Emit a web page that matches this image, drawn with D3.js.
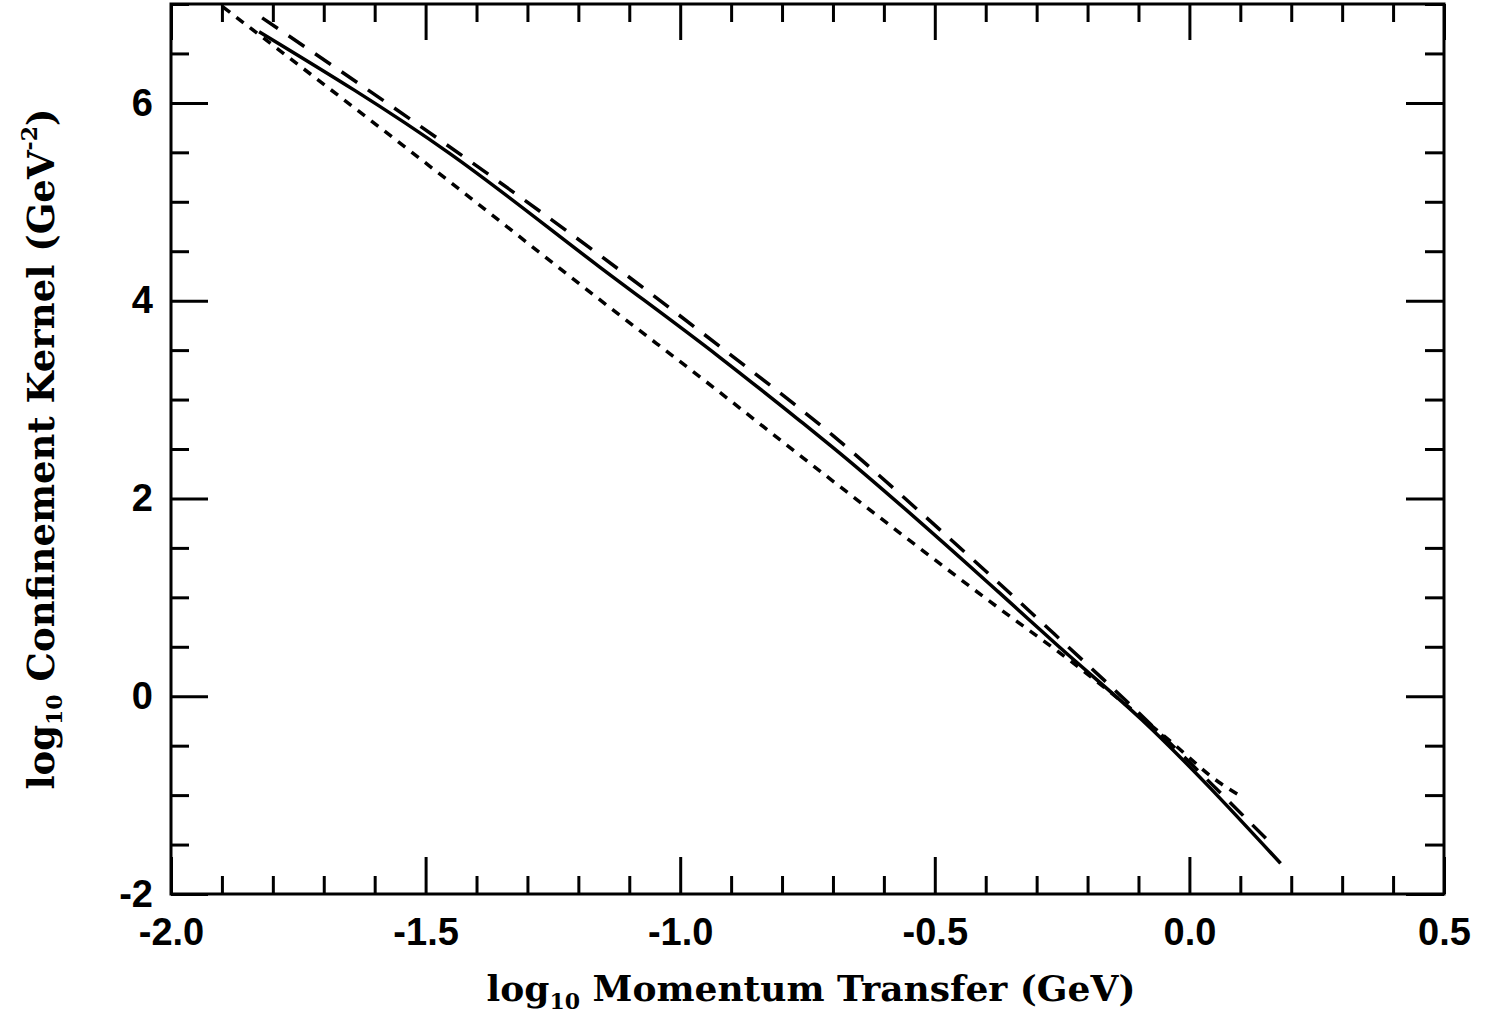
<!DOCTYPE html>
<html>
<head>
<meta charset="utf-8">
<script src="https://cdn.jsdelivr.net/npm/d3@7"></script>
<style>
  body { margin: 0; background: #fff; }
  .tick text { font-family: Arial, "Liberation Sans", sans-serif; font-weight: bold; }
  .ttl { font-family: "DejaVu Serif", serif; font-weight: bold; }
</style>
</head>
<body>
<svg id="chart"></svg>
<script>
const solidX = [-1.827, -1.453, -1.158, -0.923, -0.766, -0.701, -0.374, -0.256, -0.093, 0.179];
const solidY = [6.72, 5.49, 4.34, 3.43, 2.79, 2.52, 1.05, 0.50, -0.24, -1.69];

const longDashX = [-1.821, -1.512, -1.158, -0.923, -0.701, -0.50, -0.276, -0.093, 0.166];
const longDashY = [6.86, 5.77, 4.46, 3.54, 2.64, 1.73, 0.68, -0.20, -1.52];

const shortDashX = [-1.898, -1.457, -1.158, -0.929, -0.766, -0.374, -0.237, -0.034, 0.058, 0.104];
const shortDashY = [6.97, 5.22, 4.01, 3.10, 2.44, 0.89, 0.37, -0.47, -0.87, -1.02];

const xTicks = [-2.0, -1.5, -1.0, -0.5, 0.0, 0.5];
const xTickLabels = ["-2.0", "-1.5", "-1.0", "-0.5", "0.0", "0.5"];
const yTicks = [-2, 0, 2, 4, 6];
const yTickLabels = ["-2", "0", "2", "4", "6"];

const width = 1489;
const height = 1014;

const svg = d3.select('#chart')
    .attr('width', width)
    .attr('height', height);

const x = d3.scaleLinear().domain([-2.0, 0.5]).range([171, 1444]);
const y = d3.scaleLinear().domain([-2, 7]).range([894, 4]);

const xMinor = d3.range(-2.0, 0.5001, 0.1).filter(v => Math.abs(v * 2 - Math.round(v * 2)) > 1e-6);
const yMinor = d3.range(-2, 7.001, 0.5).filter(v => Math.abs(v / 2 - Math.round(v / 2)) > 1e-6);

function styleAxis(g) {
  g.select('.domain').remove();
  g.selectAll('.tick line').attr('stroke', '#000').attr('stroke-width', 3);
  g.selectAll('.tick text').attr('fill', '#000').style('font-size', '38px');
}

// bottom
svg.append('g').attr('transform', 'translate(0,894)')
  .call(d3.axisBottom(x).tickValues(xTicks).tickSize(-37).tickPadding(24)
        .tickFormat((d, i) => xTickLabels[i]))
  .call(styleAxis);
svg.append('g').attr('transform', 'translate(0,894)')
  .call(d3.axisBottom(x).tickValues(xMinor).tickSize(-18).tickFormat(''))
  .call(styleAxis);
// top
svg.append('g').attr('transform', 'translate(0,4)')
  .call(d3.axisTop(x).tickValues(xTicks).tickSize(-36).tickFormat(''))
  .call(styleAxis);
svg.append('g').attr('transform', 'translate(0,4)')
  .call(d3.axisTop(x).tickValues(xMinor).tickSize(-18).tickFormat(''))
  .call(styleAxis);
// left
svg.append('g').attr('transform', 'translate(171,0)')
  .call(d3.axisLeft(y).tickValues(yTicks).tickSize(-37).tickPadding(18)
        .tickFormat((d, i) => yTickLabels[i]))
  .call(styleAxis);
svg.append('g').attr('transform', 'translate(171,0)')
  .call(d3.axisLeft(y).tickValues(yMinor).tickSize(-18).tickFormat(''))
  .call(styleAxis);
// right
svg.append('g').attr('transform', 'translate(1444,0)')
  .call(d3.axisRight(y).tickValues(yTicks).tickSize(-38).tickFormat(''))
  .call(styleAxis);
svg.append('g').attr('transform', 'translate(1444,0)')
  .call(d3.axisRight(y).tickValues(yMinor).tickSize(-19).tickFormat(''))
  .call(styleAxis);

// frame
svg.append('rect')
  .attr('x', x(-2.0)).attr('y', y(7))
  .attr('width', x(0.5) - x(-2.0)).attr('height', y(-2) - y(7))
  .attr('fill', 'none').attr('stroke', '#000').attr('stroke-width', 3);

const line = d3.line()
  .x(d => x(d[0]))
  .y(d => y(d[1]))
  .curve(d3.curveMonotoneX);

const series = [
  { xs: solidX, ys: solidY, dash: null },
  { xs: longDashX, ys: longDashY, dash: '19,13' },
  { xs: shortDashX, ys: shortDashY, dash: '9,8' }
];

svg.selectAll('.curve')
  .data(series)
  .enter().append('path')
    .attr('class', 'curve')
    .attr('d', s => line(s.xs.map((v, i) => [v, s.ys[i]])))
    .attr('fill', 'none')
    .attr('stroke', '#000')
    .attr('stroke-width', 3.5)
    .attr('stroke-dasharray', s => s.dash);

// axis titles
const xt = svg.append('text')
  .attr('class', 'ttl')
  .attr('x', 811).attr('y', 1001)
  .attr('text-anchor', 'middle')
  .style('font-size', '36px');
xt.append('tspan').text('log');
xt.append('tspan').attr('dy', 8).style('font-size', '22px').text('10');
xt.append('tspan').attr('dy', -8).text(' Momentum Transfer (GeV)');

const yt = svg.append('text')
  .attr('class', 'ttl')
  .attr('transform', 'translate(54,449) rotate(-90)')
  .attr('text-anchor', 'middle')
  .style('font-size', '37px');
yt.append('tspan').text('log');
yt.append('tspan').attr('dy', 8).style('font-size', '22px').text('10');
yt.append('tspan').attr('dy', -8).text(' Confinement Kernel (GeV');
yt.append('tspan').attr('dy', -17).style('font-size', '22px').text('-2');
yt.append('tspan').attr('dy', 17).text(')');
</script>
</body>
</html>
